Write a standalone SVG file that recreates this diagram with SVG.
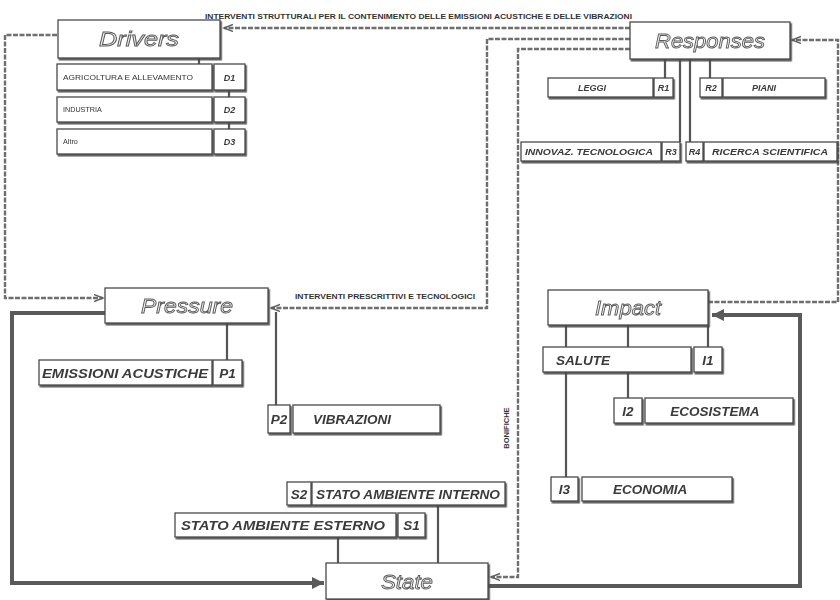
<svg xmlns="http://www.w3.org/2000/svg" width="840" height="600" viewBox="0 0 840 600">
<defs>
<style>
.b{fill:#fff;stroke:#4a4a4a;stroke-width:1.3}
.main{font-family:"Liberation Sans",Arial,sans-serif;font-style:italic;font-size:21px;fill:#f2f2f2;stroke:#5a5a5a;stroke-width:0.9;text-anchor:middle}
.sub{font-family:"Liberation Sans",Arial,sans-serif;font-style:italic;font-weight:bold;font-size:13.5px;fill:#3a3a3a}
.code{font-family:"Liberation Sans",Arial,sans-serif;font-style:italic;font-weight:bold;font-size:13.5px;fill:#3a3a3a;text-anchor:middle}
.rs{font-family:"Liberation Sans",Arial,sans-serif;font-style:italic;font-weight:bold;font-size:9px;fill:#3a3a3a}
.ds{font-family:"Liberation Sans",Arial,sans-serif;font-size:7.2px;fill:#333}
.lab{font-family:"Liberation Sans",Arial,sans-serif;font-weight:bold;font-size:7.5px;fill:#333}
.dot{fill:none;stroke:#6e6e6e;stroke-width:2.4;stroke-dasharray:5 1.5}
.thick{fill:none;stroke:#5a5a5a;stroke-width:4}
.thin{fill:none;stroke:#555;stroke-width:2.2}
</style>
<filter id="sh" x="-5%" y="-5%" width="115%" height="130%">
<feDropShadow dx="1.3" dy="1.8" stdDeviation="0.4" flood-color="#4a4a4a" flood-opacity="0.9"/>
</filter>
<marker id="ao" markerUnits="userSpaceOnUse" markerWidth="12" markerHeight="10" refX="9" refY="4" orient="auto">
<path d="M0,0.5 L9,4 L0,7.5" fill="none" stroke="#5e5e5e" stroke-width="1.4"/>
</marker>
<marker id="at" markerUnits="userSpaceOnUse" markerWidth="16" markerHeight="14" refX="12" refY="6" orient="auto">
<path d="M0,0 L12,6 L0,12 Z" fill="#5a5a5a"/>
</marker>
</defs>
<rect width="840" height="600" fill="#fff"/>

<g id="connectors">
<path class="dot" d="M630,28 H224" marker-end="url(#ao)"/>
<path class="dot" d="M630,39 H487 V308 H271" marker-end="url(#ao)"/>
<path class="dot" d="M630,49 H518 V577 H491" marker-end="url(#ao)"/>
<path class="dot" d="M708,302 H838 V40 H792" marker-end="url(#ao)"/>
<path class="dot" d="M57,35 H5 V298 H103" marker-end="url(#ao)"/>
<path class="thick" d="M488,586 H800 V315 H712" marker-end="url(#at)"/>
<path class="thick" d="M105,313 H12 V583 H324" marker-end="url(#at)"/>
<path class="thin" d="M199,58 V64 M229,90 V97 M229,122 V129"/>
<path class="thin" d="M665,59 V78 M710,59 V78 M680,59 V142 M690,59 V142"/>
<path class="thin" d="M227,322 V360 M276,312 V405"/>
<path class="thin" d="M566,325 V347 M628,325 V347 M708,325 V347 M566,372 V477 M628,372 V398"/>
<path class="thin" d="M338,537 V563 M438,505 V563"/>
<text class="lab" x="205" y="19" textLength="427" lengthAdjust="spacingAndGlyphs">INTERVENTI STRUTTURALI PER IL CONTENIMENTO DELLE EMISSIONI ACUSTICHE E DELLE VIBRAZIONI</text>
<text class="lab" x="295" y="299" textLength="180" lengthAdjust="spacingAndGlyphs">INTERVENTI PRESCRITTIVI E TECNOLOGICI</text>
<text class="lab" x="509" y="428" transform="rotate(-90 509 428)" text-anchor="middle" font-size="7.5">BONIFICHE</text>
</g>

<g id="drivers" filter="url(#sh)">
<rect class="b" x="58" y="20" width="162" height="38"/>
<text class="main" x="139" y="46" textLength="80" lengthAdjust="spacingAndGlyphs">Drivers</text>
</g>
<g id="d1" filter="url(#sh)">
<rect class="b" x="57" y="64" width="155" height="26"/>
<text class="ds" x="63" y="80" textLength="130" lengthAdjust="spacingAndGlyphs">AGRICOLTURA E ALLEVAMENTO</text>
<rect class="b" x="214" y="64" width="31" height="26"/>
<text class="rs" x="229.5" y="80.5" text-anchor="middle">D1</text>
</g>
<g id="d2" filter="url(#sh)">
<rect class="b" x="57" y="97" width="155" height="25"/>
<text class="ds" x="63" y="112">INDUSTRIA</text>
<rect class="b" x="214" y="97" width="31" height="25"/>
<text class="rs" x="229.5" y="113" text-anchor="middle">D2</text>
</g>
<g id="d3" filter="url(#sh)">
<rect class="b" x="57" y="129" width="155" height="25"/>
<text class="ds" x="63" y="144">Altro</text>
<rect class="b" x="214" y="129" width="31" height="25"/>
<text class="rs" x="229.5" y="145" text-anchor="middle">D3</text>
</g>

<g id="responses" filter="url(#sh)">
<rect class="b" x="630" y="22" width="160" height="37"/>
<text class="main" x="710" y="48" textLength="110" lengthAdjust="spacingAndGlyphs">Responses</text>
</g>
<g id="r1" filter="url(#sh)">
<rect class="b" x="548" y="78" width="105" height="19"/>
<text class="rs" x="592" y="91" text-anchor="middle">LEGGI</text>
<rect class="b" x="654" y="78" width="19" height="19"/>
<text class="rs" x="663.5" y="91" text-anchor="middle">R1</text>
</g>
<g id="r2" filter="url(#sh)">
<rect class="b" x="700" y="78" width="22" height="19"/>
<text class="rs" x="711" y="91" text-anchor="middle">R2</text>
<rect class="b" x="723" y="78" width="102" height="19"/>
<text class="rs" x="764" y="91" text-anchor="middle">PIANI</text>
</g>
<g id="r3" filter="url(#sh)">
<rect class="b" x="521" y="142" width="140" height="19"/>
<text class="rs" x="525" y="155" textLength="128" lengthAdjust="spacingAndGlyphs">INNOVAZ. TECNOLOGICA</text>
<rect class="b" x="662" y="142" width="18" height="19"/>
<text class="rs" x="671" y="155" text-anchor="middle">R3</text>
</g>
<g id="r4" filter="url(#sh)">
<rect class="b" x="686" y="142" width="17" height="19"/>
<text class="rs" x="694.5" y="155" text-anchor="middle">R4</text>
<rect class="b" x="704" y="142" width="133" height="19"/>
<text class="rs" x="712" y="155" textLength="116" lengthAdjust="spacingAndGlyphs">RICERCA SCIENTIFICA</text>
</g>

<g id="pressure" filter="url(#sh)">
<rect class="b" x="105" y="288" width="163" height="35"/>
<text class="main" x="187" y="313" textLength="92" lengthAdjust="spacingAndGlyphs">Pressure</text>
</g>
<g id="p1" filter="url(#sh)">
<rect class="b" x="39" y="360" width="173" height="25"/>
<text class="sub" x="42" y="378" textLength="166" lengthAdjust="spacingAndGlyphs">EMISSIONI ACUSTICHE</text>
<rect class="b" x="213" y="360" width="29" height="25"/>
<text class="code" x="227.5" y="378">P1</text>
</g>
<g id="p2" filter="url(#sh)">
<rect class="b" x="268" y="405" width="22" height="28"/>
<text class="code" x="279" y="424">P2</text>
<rect class="b" x="293" y="405" width="147" height="28"/>
<text class="sub" x="352" y="424" text-anchor="middle">VIBRAZIONI</text>
</g>

<g id="impact" filter="url(#sh)">
<rect class="b" x="548" y="290" width="160" height="35"/>
<text class="main" x="628" y="315" textLength="66" lengthAdjust="spacingAndGlyphs">Impact</text>
</g>
<g id="i1" filter="url(#sh)">
<rect class="b" x="543" y="347" width="148" height="25"/>
<text class="sub" x="556" y="365">SALUTE</text>
<rect class="b" x="694" y="347" width="28" height="25"/>
<text class="code" x="708" y="365">I1</text>
</g>
<g id="i2" filter="url(#sh)">
<rect class="b" x="614" y="398" width="28" height="25"/>
<text class="code" x="628" y="416">I2</text>
<rect class="b" x="645" y="398" width="148" height="25"/>
<text class="sub" x="715" y="416" text-anchor="middle">ECOSISTEMA</text>
</g>
<g id="i3" filter="url(#sh)">
<rect class="b" x="551" y="477" width="27" height="24"/>
<text class="code" x="564.5" y="494">I3</text>
<rect class="b" x="582" y="477" width="150" height="24"/>
<text class="sub" x="650" y="494" text-anchor="middle">ECONOMIA</text>
</g>

<g id="state" filter="url(#sh)">
<rect class="b" x="326" y="563" width="162" height="36"/>
<text class="main" x="407" y="589" textLength="52" lengthAdjust="spacingAndGlyphs">State</text>
</g>
<g id="s1" filter="url(#sh)">
<rect class="b" x="175" y="513" width="221" height="24"/>
<text class="sub" x="181" y="530" textLength="204" lengthAdjust="spacingAndGlyphs">STATO AMBIENTE ESTERNO</text>
<rect class="b" x="398" y="513" width="27" height="24"/>
<text class="code" x="411.5" y="530">S1</text>
</g>
<g id="s2" filter="url(#sh)">
<rect class="b" x="287" y="482" width="24" height="23"/>
<text class="code" x="299" y="498.5">S2</text>
<rect class="b" x="312" y="482" width="193" height="23"/>
<text class="sub" x="316" y="498.5" textLength="184" lengthAdjust="spacingAndGlyphs">STATO AMBIENTE INTERNO</text>
</g>
</svg>
